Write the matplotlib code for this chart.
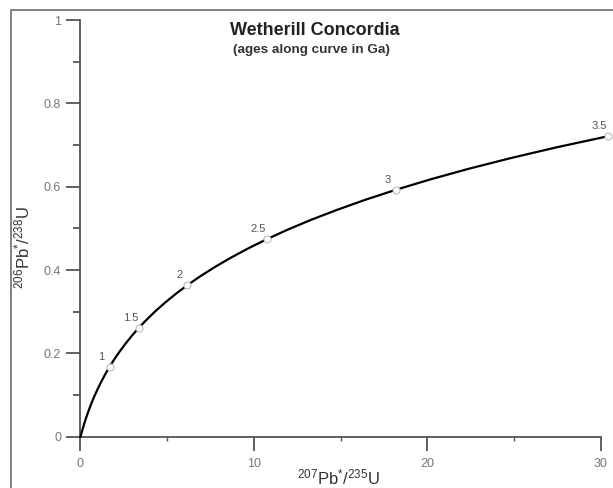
import matplotlib
matplotlib.use("Agg")
import matplotlib.pyplot as plt
from matplotlib.patches import Rectangle

plt.rcParams['font.family'] = ['Liberation Sans', 'DejaVu Sans']
plt.rcParams['mathtext.fontset'] = 'custom'
plt.rcParams['mathtext.rm'] = 'Liberation Sans'
plt.rcParams['mathtext.it'] = 'Liberation Sans'
plt.rcParams['mathtext.bf'] = 'Liberation Sans:bold'

# pontos lidos ao longo da curva concordia (207Pb*/235U, 206Pb*/238U)
curva_x = [0.0, 0.1035, 0.2177, 0.3438, 0.4828, 0.6362, 0.8055, 0.9925, 1.1986,
           1.4264, 1.6774, 1.9545, 2.2604, 2.5977, 2.9700, 3.3800, 3.8342,
           4.3346, 4.8865, 5.4959, 6.1685, 6.9104, 7.7288, 8.6325, 9.6291,
           10.729, 11.944, 13.284, 14.762, 16.394, 18.193, 20.180, 22.371,
           24.791, 27.460, 30.41]
curva_y = [0.0, 0.0156, 0.0315, 0.0476, 0.0640, 0.0807, 0.0975, 0.1147, 0.1321,
           0.1498, 0.1678, 0.1861, 0.2046, 0.2234, 0.2426, 0.2620, 0.2817,
           0.3018, 0.3221, 0.3428, 0.3638, 0.3851, 0.4067, 0.4287, 0.4510,
           0.4737, 0.4968, 0.5202, 0.5439, 0.5681, 0.5926, 0.6175, 0.6428,
           0.6684, 0.6945, 0.7210]

# idades marcadas na curva (Ga)
idades = ["1", "1.5", "2", "2.5", "3", "3.5"]
idades_x = [1.677, 3.380, 6.169, 10.73, 18.19, 30.41]
idades_y = [0.1678, 0.2620, 0.3638, 0.4737, 0.5927, 0.7210]

fig = plt.figure(figsize=(6.13, 4.88), dpi=100)
ax = fig.add_axes([0.1313, 0.1051, 0.8486, 0.8539])

cinza = '#555555'
ax.plot(curva_x, curva_y, color='black', lw=1.6, clip_on=False, zorder=3,
        solid_joinstyle='round')
ax.plot(idades_x, idades_y, 'o', ms=5, mfc='white', mec='#bbbbbb', mew=0.8,
        clip_on=False, zorder=4)
for rot, x, y in zip(idades, idades_x, idades_y):
    ax.annotate(rot, (x, y), xytext=(-6, 3.5), textcoords='offset points',
                ha='center', va='bottom', fontsize=8, color='#555555',
                annotation_clip=False)

ax.set_xlim(0, 30)
ax.set_ylim(0, 1)
ax.set_xticks([0, 10, 20, 30])
ax.set_xticks([5, 15, 25], minor=True)
ax.set_yticks([0, 0.2, 0.4, 0.6, 0.8, 1])
ax.set_yticklabels(["0", "0.2", "0.4", "0.6", "0.8", "1"])
ax.set_yticks([0.1, 0.3, 0.5, 0.7, 0.9], minor=True)

for lado in ['top', 'right']:
    ax.spines[lado].set_visible(False)
for lado in ['left', 'bottom']:
    ax.spines[lado].set_color(cinza)
    ax.spines[lado].set_linewidth(1.3)

ax.tick_params(axis='both', which='major', direction='out', length=10, width=1.3,
               color=cinza, labelcolor='#777777', labelsize=9)
ax.tick_params(axis='y', which='major', pad=4)
ax.tick_params(axis='x', which='major', pad=5)
ax.tick_params(axis='y', which='minor', direction='out', length=5, width=1.3, color=cinza)
ax.tick_params(axis='x', which='minor', direction='out', length=3, width=1.0, color=cinza)

ax.set_xlabel(r'$^{207}$Pb$^{*}$/$^{235}$U', fontsize=12, color='#333333')
ax.xaxis.set_label_coords(0.495, -0.075)
ax.set_ylabel(r'$^{206}$Pb$^{*}$/$^{238}$U', fontsize=12, color='#333333')
ax.yaxis.set_label_coords(-0.093, 0.453)

ax.text(13.5, 0.975, "Wetherill Concordia", ha='center', va='center',
        fontsize=13, fontweight='bold', color='#222222')
ax.text(13.3, 0.928, "(ages along curve in Ga)", ha='center', va='center',
        fontsize=9.7, fontweight='bold', color='#333333')

# moldura cinza em volta da figura
fig.patches.append(Rectangle((0.018, -0.1), 1.1, 1.0795, transform=fig.transFigure,
                             fill=False, edgecolor='#777777', lw=1.3))

fig.savefig("out.png", dpi=100)
